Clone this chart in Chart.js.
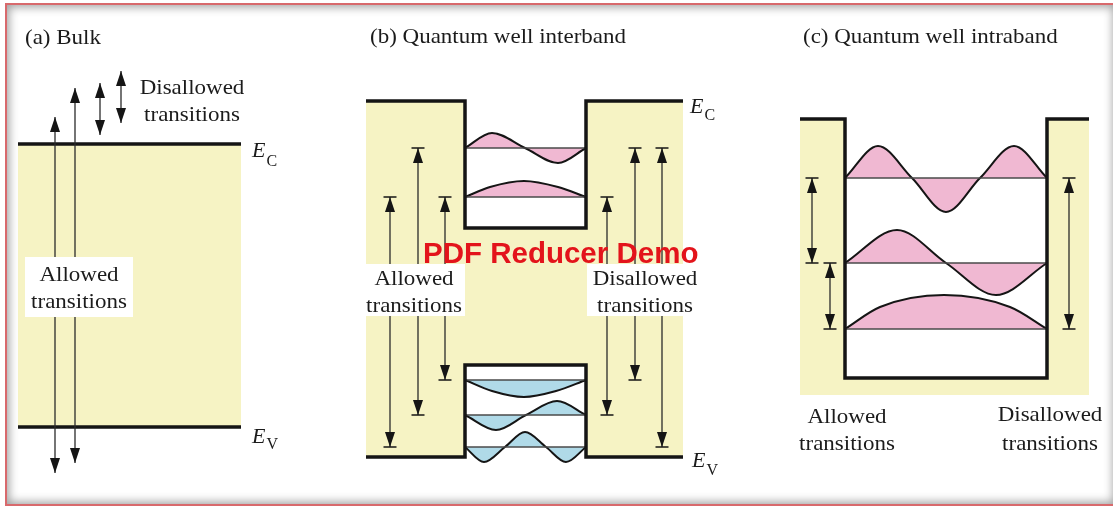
<!DOCTYPE html>
<html>
<head>
<meta charset="utf-8">
<script src="https://cdn.jsdelivr.net/npm/chart.js@4.4.0/dist/chart.umd.min.js"></script>
<style>
  html, body { margin: 0; padding: 0; background: #fff; }
  #wrap { position: relative; width: 1113px; height: 507px; overflow: hidden; background: #fff; }
  #c { position: absolute; left: 0; top: 0; }
  #frame {
    position: absolute; left: 5px; top: 3px; width: 1112px; height: 503px;
    box-sizing: border-box; border: 2px solid #d8696c;
    box-shadow: inset 0 0 10px 2px rgba(0, 0, 0, 0.38);
    pointer-events: none;
  }
</style>
</head>
<body>
<div id="wrap">
  <canvas id="c" width="1113" height="507"></canvas>
  <div id="frame"></div>
</div>
<script>
// Diagram space: x runs left to right, y is energy drawn downward (smaller y = higher energy).
const W = 1113, H = 507;

// (a) Bulk semiconductor
const bulkSpan = [18, 241];            // band region, x extent
const bulkEdges = [144, 427];          // E_C, E_V

// (b) Quantum well, interband
const interX = [366, 465, 586, 683];   // barrier | well | barrier breakpoints
const interCond = [101, 228];          // conduction: barrier edge, well floor
const interVal = [457, 365];           // valence: barrier edge, well ceiling
const interCondLevels = [197, 148];    // C1, C2
const interValLevels = [380, 415, 447];// V1, V2, V3

// (c) Quantum well, intraband
const intraX = [800, 845, 1047, 1089];
const intraCond = [119, 378];          // barrier edge, well floor
const intraFloor = 395;                // lower edge of the shaded band
const intraLevels = [329, 263, 178];   // n = 1, 2, 3

// Wavefunction key points (extrema and nodes) for each confined state
const waveC1 = [[465, 197], [490, 187], [524, 181], [558, 187], [586, 197]];
const waveC2 = [[465, 148], [492, 133], [525, 148], [558, 163], [586, 148]];
const waveV1 = [[465, 380], [492, 391], [524, 397], [556, 391], [586, 380]];
const waveV2 = [[465, 415], [496, 430], [526, 415], [557, 401], [586, 415]];
const waveV3 = [[465, 447], [484, 462], [505, 447], [525, 432], [546, 447], [566, 462], [586, 447]];
const waveI1 = [[845, 329], [880, 307], [944, 295], [1010, 307], [1047, 329]];
const waveI2 = [[845, 263], [897, 230], [946, 263], [996, 295], [1047, 263]];
const waveI3 = [[845, 178], [878, 146], [912, 178], [946, 212], [980, 178], [1014, 146], [1047, 178]];

// Transitions: [x, upper energy, lower energy]
const [C1, C2] = interCondLevels;
const [V1, V2, V3] = interValLevels;
const [I1, I2, I3] = intraLevels;
const bulkArrows = [[55, 117, 473], [75, 88, 463], [100, 83, 135], [121, 71, 123]];
const interArrows = [[390, C1, V3], [418, C2, V2], [445, C1, V1], [607, C1, V2], [635, C2, V1], [662, C2, V3]];
const intraArrows = [[812, I3, I2], [830, I2, I1], [1069, I3, I1]];

// White panels behind the in-band labels: [x0, x1, top, bottom]
const labelBoxes = [[25, 133, 257, 317], [365, 465, 264, 316], [587, 700, 264, 316]];

const YELLOW = '#f6f3c4', PINK = '#f0b8d2', BLUE = '#b0dae8', INK = '#151515';

const ds = [];
const pts = a => a.map(([x, y]) => ({ x, y }));

function fillRect(x0, x1, top, bottom, color) {
  ds.push({ data: [{ x: x0, y: top }, { x: x1, y: top }], fill: { value: bottom },
    backgroundColor: color, borderWidth: 0, pointRadius: 0 });
}
function polyline(a, width, color) {
  ds.push({ data: pts(a), borderColor: color, borderWidth: width, pointRadius: 0,
    fill: false, borderJoinStyle: 'miter' });
}
function wave(a, color) {
  const level = a[0][1];
  ds.push({ data: pts(a), fill: { value: level }, backgroundColor: color,
    borderColor: INK, borderWidth: 2, pointRadius: 0, cubicInterpolationMode: 'monotone' });
  ds.push({ data: [{ x: a[0][0], y: level }, { x: a[a.length - 1][0], y: level }],
    borderColor: '#4a4a4a', borderWidth: 1.6, pointRadius: 0, fill: false });
}

// Shaded band regions
fillRect(bulkSpan[0], bulkSpan[1], bulkEdges[0], bulkEdges[1], YELLOW);
fillRect(interX[0], interX[1], interCond[0], interVal[0], YELLOW);
fillRect(interX[1], interX[2], interCond[1], interVal[1], YELLOW);
fillRect(interX[2], interX[3], interCond[0], interVal[0], YELLOW);
fillRect(intraX[0], intraX[1], intraCond[0], intraFloor, YELLOW);
fillRect(intraX[1], intraX[2], intraCond[1], intraFloor, YELLOW);
fillRect(intraX[2], intraX[3], intraCond[0], intraFloor, YELLOW);

// Confined-state wavefunctions
[waveC1, waveC2].forEach(w => wave(w, PINK));
[waveV1, waveV2, waveV3].forEach(w => wave(w, BLUE));
[waveI1, waveI2, waveI3].forEach(w => wave(w, PINK));

// Band edges
polyline([[bulkSpan[0], bulkEdges[0]], [bulkSpan[1], bulkEdges[0]]], 3.5, INK);
polyline([[bulkSpan[0], bulkEdges[1]], [bulkSpan[1], bulkEdges[1]]], 3.5, INK);
polyline([[interX[0], interCond[0]], [interX[1], interCond[0]], [interX[1], interCond[1]],
          [interX[2], interCond[1]], [interX[2], interCond[0]], [interX[3], interCond[0]]], 3.5, INK);
polyline([[interX[0], interVal[0]], [interX[1], interVal[0]], [interX[1], interVal[1]],
          [interX[2], interVal[1]], [interX[2], interVal[0]], [interX[3], interVal[0]]], 3.5, INK);
polyline([[intraX[0], intraCond[0]], [intraX[1], intraCond[0]], [intraX[1], intraCond[1]],
          [intraX[2], intraCond[1]], [intraX[2], intraCond[0]], [intraX[3], intraCond[0]]], 3.5, INK);

// Transition arrows
const heads = [], bars = [];
function arrow([x, top, bottom], withBars) {
  ds.push({ data: [{ x, y: top }, { x, y: bottom }], borderColor: '#2b2b2b', borderWidth: 1.3,
    pointRadius: 0, fill: false });
  heads.push({ x, y: top, rot: 0 }, { x, y: bottom, rot: 180 });
  if (withBars) bars.push({ x, y: top }, { x, y: bottom });
}
bulkArrows.forEach(a => arrow(a, false));
interArrows.forEach(a => arrow(a, true));
intraArrows.forEach(a => arrow(a, true));

function arrowHead(w, len) {
  const c = document.createElement('canvas');
  c.width = w; c.height = len * 2;
  const g = c.getContext('2d');
  g.fillStyle = INK;
  g.beginPath();
  g.moveTo(w / 2, len); g.lineTo(w, len * 2); g.lineTo(0, len * 2);
  g.closePath(); g.fill();
  return c;
}
ds.push({ data: bars.map(b => ({ x: b.x, y: b.y })), showLine: false, pointStyle: 'line',
  pointRadius: 6.5, pointBorderWidth: 1.5, pointBorderColor: INK, pointBackgroundColor: INK });
ds.push({ data: heads.map(h => ({ x: h.x, y: h.y })), showLine: false, pointStyle: arrowHead(10, 15),
  pointRadius: 5, pointRotation: heads.map(h => h.rot) });

// Label panels sit over the arrows
labelBoxes.forEach(([x0, x1, top, bottom]) => fillRect(x0, x1, top, bottom, '#ffffff'));

// Earlier datasets paint first
ds.forEach((d, i) => { d.order = ds.length - i; });

// Text annotations, anchored in diagram space
const labels = [
  { t: '(a) Bulk', x: 25, y: 44, align: 'left' },
  { t: '(b) Quantum well interband', x: 370, y: 43, align: 'left' },
  { t: '(c) Quantum well intraband', x: 803, y: 43, align: 'left' },
  { t: 'Disallowed', x: 192, y: 94 }, { t: 'transitions', x: 192, y: 121 },
  { t: 'Allowed', x: 79, y: 281 }, { t: 'transitions', x: 79, y: 308 },
  { t: 'Allowed', x: 414, y: 285 }, { t: 'transitions', x: 414, y: 312 },
  { t: 'Disallowed', x: 645, y: 285 }, { t: 'transitions', x: 645, y: 312 },
  { t: 'Allowed', x: 847, y: 423 }, { t: 'transitions', x: 847, y: 450 },
  { t: 'Disallowed', x: 1050, y: 421 }, { t: 'transitions', x: 1050, y: 450 }
];
const edgeLabels = [
  { sub: 'C', x: 252, y: 157, dy: 9 },
  { sub: 'V', x: 252, y: 443, dy: 6 },
  { sub: 'C', x: 690, y: 113, dy: 7 },
  { sub: 'V', x: 692, y: 467, dy: 8 }
];
const watermark = { t: 'PDF Reducer Demo', x: 423, y: 263 };

const textPlugin = {
  id: 'diagramText',
  afterDatasetsDraw(chart) {
    const { ctx, scales: { x: sx, y: sy } } = chart;
    ctx.save();
    ctx.fillStyle = '#1b1b1b';
    ctx.textBaseline = 'alphabetic';
    ctx.font = '22px "Liberation Serif", "Times New Roman", serif';
    for (const l of labels) {
      ctx.save();
      ctx.translate(sx.getPixelForValue(l.x), sy.getPixelForValue(l.y));
      ctx.scale(1.045, 1);
      ctx.textAlign = l.align || 'center';
      ctx.fillText(l.t, 0, 0);
      ctx.restore();
    }
    ctx.textAlign = 'left';
    for (const e of edgeLabels) {
      const px = sx.getPixelForValue(e.x), py = sy.getPixelForValue(e.y);
      ctx.font = 'italic 22px "Liberation Serif", "Times New Roman", serif';
      ctx.fillText('E', px, py);
      const w = ctx.measureText('E').width;
      ctx.font = '16px "Liberation Serif", "Times New Roman", serif';
      ctx.fillText(e.sub, px + w + 1, py + e.dy);
    }
    ctx.fillStyle = '#e3141b';
    ctx.font = 'bold 29.5px "Liberation Sans", Arial, sans-serif';
    ctx.fillText(watermark.t, sx.getPixelForValue(watermark.x), sy.getPixelForValue(watermark.y));
    ctx.restore();
  }
};

new Chart(document.getElementById('c'), {
  type: 'line',
  data: { datasets: ds },
  options: {
    responsive: false,
    animation: false,
    events: [],
    devicePixelRatio: 1,
    layout: { padding: 0, autoPadding: false },
    elements: { line: { borderCapStyle: 'butt' } },
    scales: {
      x: { type: 'linear', min: 0, max: W, display: false },
      y: { type: 'linear', min: 0, max: H, reverse: true, display: false }
    },
    plugins: { legend: { display: false }, tooltip: { enabled: false } }
  },
  plugins: [textPlugin]
});
</script>
</body>
</html>
